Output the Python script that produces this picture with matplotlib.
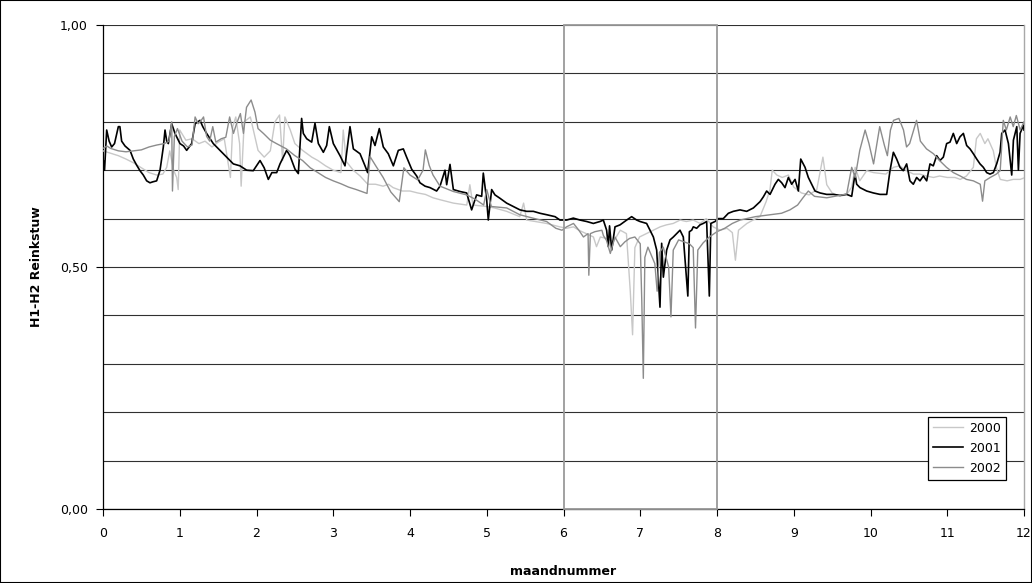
import matplotlib
matplotlib.use("Agg")
import matplotlib.pyplot as plt
from matplotlib.patches import Rectangle
import numpy as np

# ---------------- data ----------------
series_names = ["2000", "2001", "2002"]
x_ticks = list(range(0, 13))
y_tick_values = [0.0, 0.5, 1.0]
y_tick_labels = ["0,00", "0,50", "1,00"]
highlight_start, highlight_end = 6, 8

months_2000 = [0.0, 0.1, 0.2, 0.3, 0.4, 0.5, 0.6, 0.7, 0.78, 0.83,
               0.87, 0.92, 0.96, 0.98, 1.0, 1.08, 1.16, 1.25, 1.33, 1.42,
               1.5, 1.58, 1.66, 1.69, 1.73, 1.78, 1.8, 1.84, 1.92, 1.97,
               2.02, 2.1, 2.18, 2.24, 2.3, 2.34, 2.37, 2.44, 2.5, 2.6,
               2.72, 2.8, 2.9, 3.0, 3.1, 3.13, 3.17, 3.26, 3.35, 3.45,
               3.55, 3.65, 3.72, 3.78, 3.9, 4.0, 4.1, 4.2, 4.3, 4.391,
               4.565, 4.74, 4.78, 4.82, 5.0, 5.1, 5.26, 5.43, 5.48, 5.52,
               5.78, 5.95, 6.04, 6.13, 6.2, 6.39, 6.43, 6.48, 6.56, 6.65,
               6.74, 6.82, 6.87, 6.9, 6.93, 6.99, 7.08, 7.17, 7.26, 7.34,
               7.43, 7.52, 7.6, 7.69, 7.78, 7.86, 7.95, 8.04, 8.13, 8.2,
               8.24, 8.28, 8.39, 8.47, 8.56, 8.64, 8.69, 8.72, 8.78, 8.85,
               8.93, 9.0, 9.1, 9.2, 9.3, 9.38, 9.43, 9.5, 9.6, 9.69,
               9.755, 9.8, 9.86, 9.95, 10.04, 10.2, 10.3, 10.38, 10.47, 10.56,
               10.64, 10.73, 10.82, 10.9, 11.0, 11.1, 11.17, 11.25, 11.34, 11.38,
               11.43, 11.49, 11.53, 11.6, 11.64, 11.69, 11.78, 11.86, 11.95, 12.0]
values_2000 = [0.74, 0.735, 0.73, 0.723, 0.715, 0.705, 0.695, 0.69, 0.692, 0.706,
               0.74, 0.70, 0.685, 0.66, 0.783, 0.762, 0.765, 0.755, 0.76, 0.748,
               0.758, 0.765, 0.685, 0.79, 0.81, 0.755, 0.667, 0.80, 0.81, 0.776,
               0.741, 0.727, 0.74, 0.80, 0.814, 0.72, 0.81, 0.783, 0.755, 0.741,
               0.727, 0.72, 0.709, 0.70, 0.695, 0.783, 0.718, 0.70, 0.688, 0.671,
               0.671, 0.667, 0.671, 0.664, 0.657, 0.657, 0.653, 0.65, 0.643, 0.639,
               0.632, 0.628, 0.67, 0.628, 0.625, 0.622, 0.615, 0.604, 0.632, 0.597,
               0.59, 0.583, 0.58, 0.583, 0.576, 0.562, 0.542, 0.562, 0.559, 0.552,
               0.576, 0.569, 0.45, 0.36, 0.54, 0.562, 0.569, 0.576, 0.583, 0.587,
               0.59, 0.597, 0.594, 0.597, 0.59, 0.60, 0.583, 0.576, 0.58, 0.571,
               0.514, 0.576, 0.59, 0.597, 0.604, 0.635, 0.66, 0.70, 0.69, 0.685,
               0.69, 0.665, 0.653, 0.649, 0.66, 0.727, 0.67, 0.653, 0.646, 0.65,
               0.665, 0.706, 0.678, 0.699, 0.695, 0.692, 0.706, 0.709, 0.699, 0.692,
               0.692, 0.688, 0.685, 0.688, 0.685, 0.685, 0.681, 0.688, 0.706, 0.765,
               0.776, 0.755, 0.765, 0.74, 0.706, 0.681, 0.678, 0.681, 0.681, 0.684]

months_2001 = [0.0, 0.004, 0.02, 0.048, 0.08, 0.113, 0.15, 0.2, 0.22, 0.243,
               0.287, 0.352, 0.395, 0.44, 0.482, 0.525, 0.569, 0.612, 0.65, 0.699,
               0.743, 0.786, 0.808, 0.83, 0.851, 0.895, 0.938, 1.003, 1.05, 1.09,
               1.155, 1.2, 1.264, 1.3, 1.35, 1.437, 1.525, 1.611, 1.698, 1.785,
               1.872, 1.958, 2.046, 2.1, 2.154, 2.2, 2.263, 2.306, 2.393, 2.436,
               2.502, 2.545, 2.588, 2.61, 2.654, 2.719, 2.762, 2.806, 2.871, 2.914,
               2.949, 3.001, 3.088, 3.153, 3.218, 3.262, 3.349, 3.414, 3.448, 3.501,
               3.544, 3.6, 3.652, 3.717, 3.783, 3.848, 3.913, 3.956, 4.022, 4.087,
               4.13, 4.196, 4.261, 4.347, 4.391, 4.456, 4.478, 4.521, 4.565, 4.651,
               4.738, 4.803, 4.868, 4.934, 4.955, 4.999, 5.02, 5.064, 5.107, 5.172,
               5.259, 5.346, 5.433, 5.52, 5.607, 5.694, 5.781, 5.89, 5.954, 6.041,
               6.128, 6.215, 6.302, 6.389, 6.476, 6.519, 6.562, 6.584, 6.6, 6.628,
               6.671, 6.736, 6.823, 6.888, 6.953, 6.997, 7.083, 7.127, 7.171, 7.214,
               7.257, 7.279, 7.301, 7.344, 7.388, 7.431, 7.475, 7.518, 7.561, 7.62,
               7.64, 7.67, 7.691, 7.735, 7.778, 7.821, 7.865, 7.9, 7.92, 7.974,
               8.017, 8.082, 8.148, 8.213, 8.3, 8.387, 8.474, 8.561, 8.604, 8.647,
               8.691, 8.756, 8.799, 8.843, 8.886, 8.93, 8.973, 9.017, 9.06, 9.091,
               9.147, 9.19, 9.234, 9.277, 9.342, 9.429, 9.516, 9.603, 9.69, 9.755,
               9.798, 9.82, 9.863, 9.95, 10.037, 10.124, 10.211, 10.254, 10.298, 10.341,
               10.384, 10.427, 10.471, 10.514, 10.558, 10.601, 10.645, 10.688, 10.732, 10.775,
               10.818, 10.862, 10.905, 10.949, 10.992, 11.036, 11.079, 11.123, 11.166, 11.21,
               11.253, 11.297, 11.34, 11.384, 11.427, 11.47, 11.514, 11.557, 11.601, 11.644,
               11.688, 11.71, 11.753, 11.797, 11.84, 11.862, 11.906, 11.927, 11.949, 11.993,
               12.0]
values_2001 = [0.69, 0.72, 0.70, 0.783, 0.76, 0.748, 0.755, 0.79, 0.79, 0.76,
               0.75, 0.741, 0.723, 0.71, 0.699, 0.69, 0.678, 0.674, 0.676, 0.678,
               0.70, 0.748, 0.783, 0.76, 0.755, 0.796, 0.776, 0.755, 0.75, 0.741,
               0.755, 0.796, 0.803, 0.79, 0.776, 0.755, 0.741, 0.727, 0.713, 0.709,
               0.70, 0.699, 0.72, 0.705, 0.681, 0.695, 0.695, 0.713, 0.741, 0.73,
               0.702, 0.693, 0.807, 0.776, 0.765, 0.758, 0.797, 0.755, 0.737, 0.751,
               0.79, 0.755, 0.73, 0.709, 0.79, 0.744, 0.734, 0.709, 0.695, 0.769,
               0.751, 0.786, 0.748, 0.734, 0.709, 0.741, 0.744, 0.727, 0.702, 0.688,
               0.674, 0.667, 0.664, 0.657, 0.667, 0.70, 0.67, 0.712, 0.66, 0.656,
               0.653, 0.618, 0.649, 0.646, 0.694, 0.639, 0.597, 0.66, 0.649, 0.642,
               0.632, 0.625, 0.618, 0.615, 0.615, 0.611, 0.608, 0.604, 0.597, 0.597,
               0.601, 0.597, 0.594, 0.59, 0.594, 0.597, 0.576, 0.542, 0.585, 0.535,
               0.583, 0.587, 0.597, 0.604, 0.597, 0.594, 0.59, 0.576, 0.562, 0.535,
               0.417, 0.549, 0.479, 0.535, 0.556, 0.562, 0.569, 0.576, 0.562, 0.44,
               0.573, 0.576, 0.583, 0.58, 0.587, 0.59, 0.594, 0.44, 0.59, 0.594,
               0.60, 0.60, 0.611, 0.615, 0.618, 0.615, 0.622, 0.635, 0.645, 0.657,
               0.65, 0.671, 0.681, 0.674, 0.664, 0.685, 0.671, 0.681, 0.657, 0.723,
               0.706, 0.685, 0.671, 0.657, 0.653, 0.65, 0.65, 0.648, 0.65, 0.646,
               0.692, 0.671, 0.664, 0.657, 0.653, 0.65, 0.65, 0.699, 0.737, 0.723,
               0.706, 0.699, 0.713, 0.678, 0.671, 0.685, 0.678, 0.688, 0.678, 0.713,
               0.709, 0.73, 0.72, 0.727, 0.755, 0.758, 0.776, 0.755, 0.769, 0.776,
               0.751, 0.744, 0.734, 0.723, 0.713, 0.706, 0.695, 0.692, 0.695, 0.713,
               0.737, 0.776, 0.783, 0.755, 0.69, 0.762, 0.79, 0.70, 0.776, 0.793,
               0.783]

months_2002 = [0.0, 0.05, 0.1, 0.2, 0.3, 0.4, 0.5, 0.6, 0.7, 0.8,
               0.86, 0.895, 0.905, 0.93, 0.97, 1.03, 1.1, 1.16, 1.2, 1.24,
               1.28, 1.31, 1.35, 1.39, 1.43, 1.47, 1.54, 1.6, 1.65, 1.7,
               1.74, 1.79, 1.83, 1.87, 1.93, 1.98, 2.02, 2.09, 2.18, 2.26,
               2.39, 2.5, 2.6, 2.7, 2.8, 2.9, 3.0, 3.1, 3.2, 3.3,
               3.44, 3.48, 3.55, 3.65, 3.75, 3.86, 3.92, 4.0, 4.1, 4.17,
               4.2, 4.25, 4.3, 4.391, 4.565, 4.738, 4.85, 4.96, 5.0, 5.06,
               5.26, 5.43, 5.6, 5.78, 5.9, 5.98, 6.04, 6.13, 6.2, 6.26,
               6.32, 6.33, 6.35, 6.41, 6.5, 6.52, 6.56, 6.61, 6.67, 6.74,
               6.8, 6.86, 6.93, 7.0, 7.02, 7.04, 7.06, 7.1, 7.19, 7.22,
               7.25, 7.3, 7.37, 7.40, 7.43, 7.5, 7.57, 7.64, 7.69, 7.72,
               7.75, 7.82, 7.9, 8.0, 8.1, 8.2, 8.3, 8.5, 8.7, 8.84,
               8.95, 9.05, 9.12, 9.19, 9.27, 9.43, 9.6, 9.69, 9.755, 9.8,
               9.86, 9.93, 9.98, 10.04, 10.12, 10.18, 10.22, 10.26, 10.3, 10.37,
               10.43, 10.47, 10.51, 10.6, 10.65, 10.73, 10.82, 10.9, 10.99, 11.08,
               11.17, 11.25, 11.34, 11.43, 11.46, 11.49, 11.56, 11.64, 11.69, 11.73,
               11.77, 11.82, 11.86, 11.9, 11.95, 12.0]
values_2002 = [0.745, 0.75, 0.745, 0.74, 0.738, 0.74, 0.742, 0.748, 0.752, 0.755,
               0.76, 0.80, 0.657, 0.77, 0.786, 0.76, 0.748, 0.752, 0.81, 0.796,
               0.803, 0.81, 0.77, 0.76, 0.79, 0.758, 0.765, 0.768, 0.81, 0.776,
               0.796, 0.817, 0.776, 0.83, 0.845, 0.82, 0.786, 0.776, 0.762, 0.755,
               0.744, 0.73, 0.72, 0.705, 0.695, 0.685, 0.678, 0.672, 0.665, 0.66,
               0.652, 0.728, 0.71, 0.685, 0.655, 0.635, 0.705, 0.69, 0.68, 0.70,
               0.742, 0.71, 0.69, 0.667, 0.656, 0.649, 0.64, 0.628, 0.66, 0.625,
               0.622, 0.608, 0.601, 0.594, 0.58, 0.576, 0.583, 0.59, 0.576, 0.562,
               0.569, 0.483, 0.569, 0.573, 0.576, 0.565, 0.555, 0.528, 0.562, 0.542,
               0.552, 0.559, 0.562, 0.548, 0.43, 0.27, 0.52, 0.541, 0.507, 0.45,
               0.53, 0.541, 0.50, 0.397, 0.535, 0.556, 0.552, 0.548, 0.54, 0.374,
               0.535, 0.55, 0.562, 0.573, 0.58, 0.59, 0.597, 0.604, 0.608, 0.611,
               0.618, 0.628, 0.643, 0.657, 0.646, 0.643, 0.648, 0.651, 0.706, 0.685,
               0.741, 0.783, 0.755, 0.713, 0.79, 0.752, 0.73, 0.783, 0.803, 0.807,
               0.783, 0.748, 0.755, 0.803, 0.76, 0.744, 0.734, 0.72, 0.706, 0.695,
               0.688, 0.681, 0.678, 0.671, 0.636, 0.678, 0.685, 0.692, 0.699, 0.803,
               0.783, 0.81, 0.79, 0.813, 0.783, 0.80]

series_months = [months_2000, months_2001, months_2002]
series_values = [values_2000, values_2001, values_2002]
series_colors = ["#c8c8c8", "#000000", "#8c8c8c"]
series_widths = [1.0, 1.2, 1.0]

# ---------------- figure ----------------
plt.rcParams['font.family'] = ['DejaVu Sans']
W, H = 1032, 583
fig = plt.figure(figsize=(W / 100, H / 100), dpi=100)
ax = fig.add_axes([103 / W, 74 / H, 921 / W, 484 / H])

for xs, ys, c, lw, name in zip(series_months, series_values, series_colors,
                               series_widths, series_names):
    ax.plot(xs, ys, color=c, lw=lw, label=name, zorder=3)

# highlighted summer block
ax.add_patch(Rectangle((highlight_start, 0), highlight_end - highlight_start, 1.0,
                       fill=False, edgecolor="#9a9a9a", lw=1.3, zorder=4,
                       clip_on=False))

ax.set_xlim(0, 12)
ax.set_ylim(0, 1.0)
ax.set_xticks(x_ticks)
ax.set_xticklabels([str(t) for t in x_ticks], fontsize=9)
ax.set_yticks(y_tick_values)
ax.set_yticklabels(y_tick_labels, fontsize=9)
ax.set_yticks(np.arange(0.1, 1.0, 0.1), minor=True)
ax.tick_params(axis='y', which='minor', length=0)
ax.tick_params(axis='both', which='major', direction='out', length=5,
               width=0.8, color='black')
ax.tick_params(axis='x', pad=8)
ax.tick_params(axis='y', pad=6)

ax.grid(True, axis='y', which='both', color='#303030', lw=0.8, zorder=1)
ax.set_axisbelow(True)

for side in ['left', 'bottom']:
    ax.spines[side].set_color('black')
    ax.spines[side].set_linewidth(0.9)
ax.spines['top'].set_visible(False)
ax.spines['right'].set_color('#a8a8a8')
ax.spines['right'].set_linewidth(1.0)

ax.set_xlabel("maandnummer", fontsize=9, fontweight='bold', labelpad=18)
ax.set_ylabel("H1-H2 Reinkstuw", fontsize=9, fontweight='bold', labelpad=12)

leg = ax.legend(loc='lower right', bbox_to_anchor=(0.987, 0.048), fontsize=9,
                frameon=True, fancybox=False, framealpha=1, edgecolor='black',
                handlelength=2.4, borderpad=0.4, labelspacing=0.55,
                handletextpad=0.5)
leg.get_frame().set_linewidth(0.9)
leg.set_zorder(6)

# outer chart border
fig.patches.append(Rectangle((0.0, 0.0), 1.0, 1.0, transform=fig.transFigure,
                             fill=False, edgecolor='black', lw=1.5))

fig.savefig("out.png", dpi=100, facecolor='white')
